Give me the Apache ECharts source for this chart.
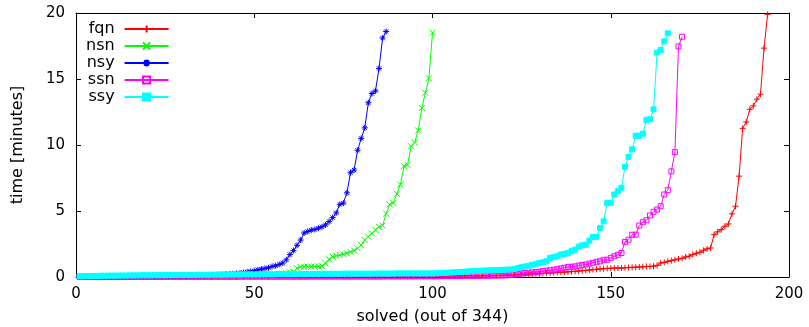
<!DOCTYPE html>
<html>
<head>
<meta charset="utf-8">
<script src="https://cdn.jsdelivr.net/npm/echarts@6/dist/echarts.min.js"></script>
<style>
  html, body { margin: 0; padding: 0; background: #fff; }
  #chart { width: 809px; height: 327px; }
</style>
</head>
<body>
<div id="chart"></div>
<script>
// solved instances sorted by time, one value per instance (minutes)
var fqn = [
  0.01,0.01,0.01,0.01,0.01,0.01,0.01,0.01,0.01,0.01,
  0.01,0.01,0.01,0.01,0.01,0.01,0.01,0.01,0.01,0.01,
  0.01,0.01,0.01,0.01,0.01,0.02,0.02,0.02,0.02,0.02,
  0.02,0.02,0.02,0.02,0.02,0.02,0.02,0.02,0.02,0.02,
  0.02,0.02,0.02,0.02,0.02,0.03,0.03,0.03,0.03,0.03,
  0.03,0.03,0.03,0.03,0.03,0.03,0.03,0.03,0.03,0.03,
  0.03,0.03,0.03,0.03,0.03,0.04,0.04,0.04,0.04,0.04,
  0.04,0.04,0.04,0.04,0.04,0.04,0.04,0.04,0.04,0.04,
  0.04,0.04,0.04,0.05,0.05,0.05,0.05,0.05,0.05,0.05,
  0.05,0.05,0.05,0.05,0.06,0.06,0.06,0.06,0.06,0.06,
  0.06,0.07,0.07,0.07,0.07,0.07,0.08,0.08,0.08,0.08,
  0.09,0.09,0.09,0.1,0.1,0.1,0.11,0.11,
  0.12,0.13,0.14,0.15,0.16,0.17,0.19,0.2,0.22,0.23,
  0.25,0.26,0.27,0.29,0.3,0.32,0.34,0.36,0.37,0.39,
  0.41,0.43,0.45,0.48,0.5,0.53,0.56,0.58,0.61,0.63,
  0.65,0.66,0.68,0.68,0.68,0.7,0.72,0.73,0.74,0.76,
  0.77,0.8,0.8,0.82,0.88,1.06,1.11,1.19,1.24,1.3,
  1.37,1.41,1.52,1.58,1.7,1.8,1.87,2.02,2.13,2.2,
  3.21,3.42,3.59,3.84,4.02,4.78,5.36,7.64,11.26,11.74,
  12.7,12.96,13.47,13.85,17.34,19.9
]
var nsn = [
  0.01,0.01,0.01,0.01,0.01,0.01,0.01,0.01,0.01,0.01,
  0.01,0.01,0.01,0.01,0.01,0.02,0.02,0.02,0.02,0.02,
  0.02,0.02,0.02,0.02,0.02,0.03,0.03,0.03,0.03,0.03,
  0.03,0.03,0.03,0.04,0.04,0.04,0.04,0.05,0.05,0.05,
  0.05,0.06,0.06,0.06,0.07,0.07,0.08,0.08,0.09,0.1,
  0.11,0.12,0.14,0.16,0.18,0.2,0.22,0.25,0.3,0.35,
  0.4,0.66,0.76,0.77,0.78,0.78,0.79,0.8,0.82,1.04,
  1.34,1.54,1.62,1.67,1.72,1.8,1.9,2.0,2.17,2.42,
  2.8,3.05,3.3,3.56,3.8,3.9,4.8,5.5,5.6,6.3,
  7.0,8.4,8.5,9.9,10.2,11.1,12.8,13.96,15.05,18.5
]
var nsy = [
  0.01,0.01,0.01,0.01,0.02,0.02,0.02,0.02,0.02,0.03,
  0.03,0.03,0.03,0.04,0.04,0.04,0.04,0.05,0.05,0.05,
  0.05,0.06,0.06,0.06,0.07,0.07,0.07,0.08,0.08,0.08,
  0.09,0.09,0.1,0.1,0.11,0.11,0.12,0.13,0.15,0.17,
  0.19,0.21,0.23,0.25,0.27,0.3,0.34,0.38,0.42,0.47,
  0.55,0.6,0.65,0.7,0.8,0.85,0.95,1.06,1.3,1.7,
  2.0,2.4,2.8,3.34,3.45,3.55,3.6,3.7,3.8,3.95,
  4.2,4.5,4.86,5.5,5.6,6.38,7.9,8.1,9.6,10.5,
  11.3,13.2,13.9,14.1,15.8,18.1,18.6
]
var ssn = [
  0.01,0.01,0.01,0.01,0.01,0.01,0.01,0.01,0.01,0.01,
  0.01,0.01,0.01,0.01,0.01,0.01,0.01,0.01,0.01,0.01,
  0.01,0.01,0.01,0.01,0.01,0.02,0.02,0.02,0.02,0.02,
  0.02,0.02,0.02,0.02,0.02,0.02,0.02,0.02,0.02,0.02,
  0.02,0.02,0.02,0.02,0.02,0.03,0.03,0.03,0.03,0.03,
  0.03,0.03,0.03,0.03,0.03,0.03,0.03,0.03,0.03,0.03,
  0.03,0.03,0.03,0.03,0.03,0.04,0.04,0.04,0.04,0.04,
  0.04,0.04,0.04,0.04,0.04,0.04,0.04,0.04,0.04,0.04,
  0.04,0.04,0.04,0.04,0.04,0.05,0.05,0.05,0.05,0.05,
  0.05,0.05,0.05,0.05,0.05,0.06,0.06,0.06,0.06,0.06,
  0.06,0.06,0.07,0.07,0.07,0.08,0.08,0.08,0.09,0.09,
  0.09,0.1,0.1,0.1,0.1,0.11,0.11,0.11,0.12,0.12,
  0.13,0.16,0.2,0.23,0.27,0.3,0.32,0.35,0.38,0.4,
  0.45,0.48,0.52,0.55,0.6,0.65,0.7,0.76,0.78,0.8,
  0.86,0.9,0.95,1.01,1.08,1.15,1.19,1.3,1.31,1.45,
  1.57,1.68,1.82,2.66,2.83,3.2,3.21,3.9,4.15,4.3,
  4.66,4.94,5.11,5.36,6.25,6.58,8.0,9.46,17.47,18.2
]
var ssy = [
  0.05,0.06,0.07,0.07,0.08,0.08,0.09,0.09,0.1,0.1,
  0.1,0.11,0.11,0.11,0.12,0.12,0.12,0.13,0.13,0.13,
  0.13,0.14,0.14,0.14,0.14,0.15,0.15,0.15,0.15,0.16,
  0.16,0.16,0.16,0.17,0.17,0.17,0.17,0.18,0.18,0.18,
  0.18,0.18,0.19,0.19,0.19,0.19,0.2,0.2,0.2,0.2,
  0.2,0.21,0.21,0.21,0.21,0.21,0.22,0.22,0.22,0.22,
  0.22,0.22,0.23,0.23,0.23,0.23,0.23,0.23,0.24,0.24,
  0.24,0.24,0.24,0.24,0.25,0.25,0.25,0.25,0.25,0.25,
  0.25,0.25,0.25,0.26,0.26,0.26,0.26,0.26,0.26,0.27,
  0.27,0.27,0.27,0.27,0.27,0.27,0.27,0.27,0.27,0.27,
  0.28,0.3,0.31,0.32,0.34,0.35,0.37,0.38,0.4,0.42,
  0.43,0.45,0.46,0.48,0.49,0.5,0.51,0.52,0.53,0.55,
  0.56,0.57,0.6,0.68,0.75,0.8,0.85,0.93,1.0,1.06,
  1.12,1.19,1.44,1.5,1.57,1.7,1.75,1.82,1.96,2.07,
  2.3,2.4,2.45,2.76,3.04,3.04,3.72,4.22,5.6,5.62,
  6.25,6.5,6.76,8.35,9.1,9.67,10.7,10.7,10.86,11.9,
  11.95,12.7,17.0,17.2,17.85,18.46
]

var xTicks = [0, 50, 100, 150, 200]
var yTicks = [0, 5, 10, 15, 20]

var font = 'DejaVu Sans'
var plusSym = 'path://M0,5H10M5,0V10'
var crossSym = 'path://M0,0L10,10M10,0L0,10'
var starSym = 'path://M0,5H10M5,0V10M1.5,1.5L8.5,8.5M8.5,1.5L1.5,8.5'

function toPoints(arr) {
    return arr.map(function (v, i) { return [i + 1, v] })
}

function makeSeries(name, arr, color, symbol, size, fill) {
    return {
        name: name,
        type: 'line',
        data: toPoints(arr),
        symbol: symbol,
        symbolSize: size,
        showSymbol: true,
        showAllSymbol: true,
        lineStyle: { color: color, width: 1 },
        itemStyle: { color: fill, borderColor: color, borderWidth: 1 },
        emphasis: { disabled: true },
        clip: true
    }
}

var tickStyle = { show: true, inside: true, length: 5, lineStyle: { color: '#000' } }
var lineStyle = { show: true, onZero: false, lineStyle: { color: '#000', width: 1 } }

var chart = echarts.init(document.getElementById('chart'), null, { renderer: 'canvas' })
chart.setOption({
    animation: false,
    backgroundColor: '#fff',
    textStyle: { fontFamily: font },
    grid: { left: 76, right: 20, top: 13, bottom: 50, containLabel: false, outerBoundsMode: 'none' },
    legend: {
        orient: 'vertical',
        left: 86,
        top: 21,
        padding: 0,
        itemGap: 1,
        itemWidth: 44,
        itemHeight: 9,
        align: 'right',
        selectedMode: false,
        textStyle: { fontFamily: font, fontSize: 16, color: '#000', padding: [0, 5, 0, 0], lineHeight: 16 },
        data: ['fqn', 'nsn', 'nsy', 'ssn', 'ssy']
    },
    xAxis: [{
        type: 'value',
        min: xTicks[0],
        max: xTicks[xTicks.length - 1],
        interval: xTicks[1] - xTicks[0],
        name: 'solved (out of 344)',
        nameLocation: 'middle',
        nameGap: 32,
        nameTextStyle: { fontFamily: font, fontSize: 16, color: '#000' },
        axisLine: lineStyle,
        axisTick: tickStyle,
        axisLabel: { fontFamily: font, fontSize: 15, color: '#000', margin: 10 },
        splitLine: { show: false }
    }, {
        type: 'value',
        position: 'top',
        min: xTicks[0],
        max: xTicks[xTicks.length - 1],
        interval: xTicks[1] - xTicks[0],
        axisLine: lineStyle,
        axisTick: tickStyle,
        axisLabel: { show: false },
        splitLine: { show: false }
    }],
    yAxis: [{
        type: 'value',
        min: yTicks[0],
        max: yTicks[yTicks.length - 1],
        interval: yTicks[1] - yTicks[0],
        name: 'time [minutes]',
        nameLocation: 'middle',
        nameGap: 50,
        nameTextStyle: { fontFamily: font, fontSize: 16, color: '#000' },
        axisLine: lineStyle,
        axisTick: tickStyle,
        axisLabel: { fontFamily: font, fontSize: 15, color: '#000', margin: 11 },
        splitLine: { show: false }
    }, {
        type: 'value',
        position: 'right',
        min: yTicks[0],
        max: yTicks[yTicks.length - 1],
        interval: yTicks[1] - yTicks[0],
        axisLine: lineStyle,
        axisTick: tickStyle,
        axisLabel: { show: false },
        splitLine: { show: false }
    }],
    series: [
        makeSeries('fqn', fqn, '#ff0000', plusSym, 6, '#ff0000'),
        makeSeries('nsn', nsn, '#00ff00', crossSym, 6, '#00ff00'),
        makeSeries('nsy', nsy, '#0000ff', starSym, 6, '#0000ff'),
        makeSeries('ssn', ssn, '#ff00ff', 'rect', 5, 'rgba(0,0,0,0)'),
        makeSeries('ssy', ssy, '#00ffff', 'rect', 5, '#00ffff')
    ]
})
</script>
</body>
</html>
